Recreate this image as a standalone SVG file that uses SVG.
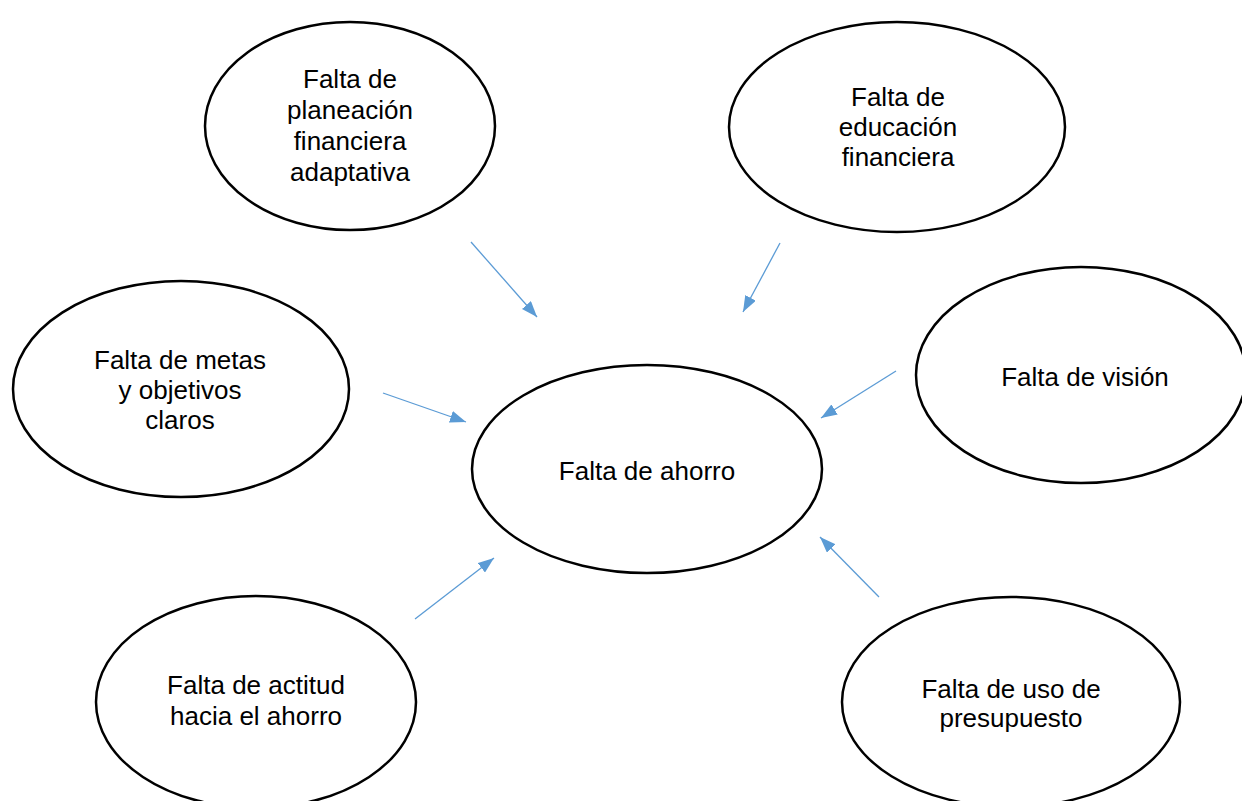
<svg xmlns="http://www.w3.org/2000/svg" width="1242" height="801" viewBox="0 0 1242 801">
<style>
.node ellipse{fill:#fff;stroke:#000;stroke-width:2.5}
.node text{font-family:"Liberation Sans",Arial,sans-serif;font-size:26px;fill:#000;text-anchor:middle}
.conn line{stroke:#5B9BD5;stroke-width:1.3}
</style>
<defs>
<marker id="ah" markerWidth="16" markerHeight="12" refX="16" refY="6" orient="auto" markerUnits="userSpaceOnUse">
<path d="M0,0 L16,6 L0,12 Z" fill="#5B9BD5"/>
</marker>
</defs>
<rect width="1242" height="801" fill="#fff"/>
<g id="n-planeacion" class="node">
<ellipse cx="350" cy="126" rx="145" ry="104"/>
<text x="350" y="88">Falta de</text>
<text x="350" y="119">planeación</text>
<text x="350" y="150">financiera</text>
<text x="350" y="181">adaptativa</text>
</g>
<g id="n-educacion" class="node">
<ellipse cx="897" cy="127" rx="168" ry="105"/>
<text x="898" y="106">Falta de</text>
<text x="898" y="136">educación</text>
<text x="898" y="166">financiera</text>
</g>
<g id="n-metas" class="node">
<ellipse cx="181" cy="389" rx="168" ry="108"/>
<text x="180" y="369">Falta de metas</text>
<text x="180" y="399">y objetivos</text>
<text x="180" y="429">claros</text>
</g>
<g id="n-ahorro" class="node">
<ellipse cx="647" cy="469" rx="175" ry="104"/>
<text x="647" y="480">Falta de ahorro</text>
</g>
<g id="n-vision" class="node">
<ellipse cx="1081" cy="375" rx="165" ry="108"/>
<text x="1085" y="386">Falta de visión</text>
</g>
<g id="n-actitud" class="node">
<ellipse cx="256" cy="702" rx="160" ry="106"/>
<text x="256" y="694">Falta de actitud</text>
<text x="256" y="725">hacia el ahorro</text>
</g>
<g id="n-presupuesto" class="node">
<ellipse cx="1011" cy="702" rx="169" ry="105"/>
<text x="1011" y="698">Falta de uso de</text>
<text x="1011" y="727">presupuesto</text>
</g>
<g id="connectors" class="conn">
<line x1="471" y1="242" x2="537" y2="317" marker-end="url(#ah)"/>
<line x1="780" y1="243" x2="743" y2="312" marker-end="url(#ah)"/>
<line x1="383" y1="393" x2="466" y2="422" marker-end="url(#ah)"/>
<line x1="896" y1="371" x2="821" y2="418" marker-end="url(#ah)"/>
<line x1="415" y1="619" x2="494" y2="558" marker-end="url(#ah)"/>
<line x1="879" y1="597" x2="820" y2="537" marker-end="url(#ah)"/>
</g>
</svg>
